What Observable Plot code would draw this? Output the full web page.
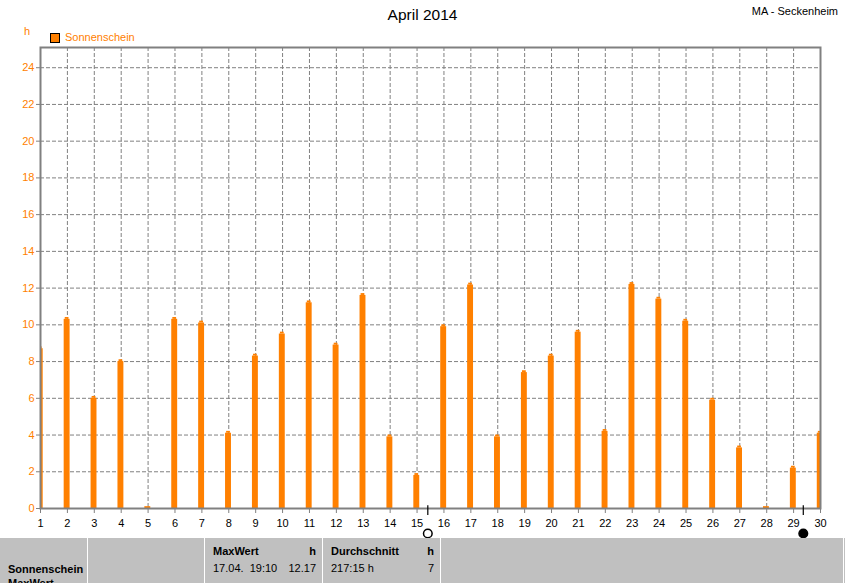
<!DOCTYPE html>
<html>
<head>
<meta charset="utf-8">
<script src="https://cdn.jsdelivr.net/npm/d3@7"></script>
<script src="https://cdn.jsdelivr.net/npm/@observablehq/plot@0.6"></script>
<style>
  body { margin: 0; background: #fff; }
  #wrap { position: relative; width: 845px; height: 583px; overflow: hidden; font-family: "Liberation Sans", Arial, sans-serif; font-size: 11px; }
  #wrap svg { position: absolute; left: 0; top: 0; }
  .abs { position: absolute; white-space: nowrap; line-height: 1; }
  .b { font-weight: bold; }
</style>
</head>
<body>
<div id="wrap"></div>
<script>
const days = d3.range(1, 31);
const sunshine = [8.7, 10.3, 6.0, 8.0, 0.1, 10.3, 10.1, 4.1, 8.3, 9.5,
                  11.2, 8.9, 11.6, 3.9, 1.8, 9.9, 12.17, 3.9, 7.4, 8.3,
                  9.6, 4.2, 12.2, 11.4, 10.2, 5.9, 3.3, 0.1, 2.2, 4.1];
const yTicks = [0, 2, 4, 6, 8, 10, 12, 14, 16, 18, 20, 22, 24];
const moonDays = [15.40, 29.36];
const moonFilled = [false, true];
const seriesName = "Sonnenschein";
const title = "April 2014";
const station = "MA - Seckenheim";
const unit = "h";

const orange = "#ff8000";
const grey = "#808080";

const data = days.map((d, i) => ({day: d, value: sunshine[i]}));
const moons = moonDays.map((d, i) => ({day: d, filled: moonFilled[i]}));

const chart = Plot.plot({
  width: 845,
  height: 583,
  marginLeft: 40,
  marginRight: 25,
  marginTop: 47,
  marginBottom: 75,
  style: {fontFamily: "'Liberation Sans', Arial, sans-serif", fontSize: "11px", background: "white", overflow: "visible"},
  x: {domain: [1, 30]},
  y: {domain: [0, 25.1]},
  marks: [
    Plot.gridX(days.slice(1, -1), {stroke: grey, strokeOpacity: 1, strokeDasharray: "4,2"}),
    Plot.gridY(yTicks.slice(1), {stroke: grey, strokeOpacity: 1, strokeDasharray: "4,2"}),
    Plot.rectY(data, {x1: d => d.day - 0.12, x2: d => d.day + 0.1, y1: 0, y2: "value", fill: orange, clip: true}),
    Plot.rectY(data.filter(d => d.value > 0.5), {x1: d => d.day - 0.08, x2: d => d.day + 0.06, y1: "value", y2: d => d.value + 0.1, fill: orange, clip: true}),
    Plot.frame({stroke: grey, strokeWidth: 2}),
    Plot.axisY({ticks: yTicks, tickSize: 5, tickPadding: 1, stroke: grey, strokeDasharray: "4,2", fill: orange, label: null, tickFormat: d => d}),
    Plot.axisX({ticks: days, tickSize: 5, tickPadding: 6, stroke: grey, fill: "black", label: null, tickFormat: d => d}),
    Plot.ruleX(moons, {x: "day", y1: 0.15, y2: -0.38, stroke: "black", strokeWidth: 1.2}),
    Plot.dot(moons, {x: "day", y: () => 0, dy: 25, r: 4.3, stroke: "black", strokeWidth: 1.5, fill: d => d.filled ? "black" : "white"})
  ]
});

const wrap = document.getElementById("wrap");
wrap.appendChild(chart);

function addText(txt, css, cls) {
  const el = document.createElement("div");
  el.className = "abs " + (cls || "");
  el.textContent = txt;
  Object.assign(el.style, css);
  wrap.appendChild(el);
  return el;
}

// title, station, unit, legend
addText(title, {left: "0px", width: "845px", textAlign: "center", top: "7px", fontSize: "15.5px"});
addText(station, {right: "7px", top: "6px"});
addText(unit, {left: "24px", top: "26px", color: orange});
const sq = document.createElement("div");
Object.assign(sq.style, {position: "absolute", left: "50px", top: "33px", width: "8px", height: "8px", background: orange, border: "1px solid black"});
wrap.appendChild(sq);
addText(seriesName, {left: "65px", top: "32px", color: orange});

// table at bottom
const table = document.createElement("div");
Object.assign(table.style, {position: "absolute", left: "0px", top: "538px", width: "845px", height: "45px", background: "#c0c0c0"});
wrap.appendChild(table);
[87, 204, 322, 440, 843].forEach(x => {
  const l = document.createElement("div");
  Object.assign(l.style, {position: "absolute", left: x + "px", top: "538px", width: "1px", height: "45px", background: "white"});
  wrap.appendChild(l);
});
addText("MaxWert", {left: "213px", top: "546px"}, "b");
addText(unit, {left: "300px", width: "16px", textAlign: "right", top: "546px"}, "b");
addText("17.04.  19:10", {left: "213px", top: "563px", whiteSpace: "pre"});
addText("12.17", {left: "260px", width: "56px", textAlign: "right", top: "563px"});
addText("Durchschnitt", {left: "331px", top: "546px"}, "b");
addText(unit, {left: "418px", width: "16px", textAlign: "right", top: "546px"}, "b");
addText("217:15 h", {left: "331px", top: "563px"});
addText("7", {left: "400px", width: "34px", textAlign: "right", top: "563px"});
addText(seriesName, {left: "8px", top: "564px"}, "b");
addText("MaxWert", {left: "8px", top: "578px"}, "b");
</script>
</body>
</html>
